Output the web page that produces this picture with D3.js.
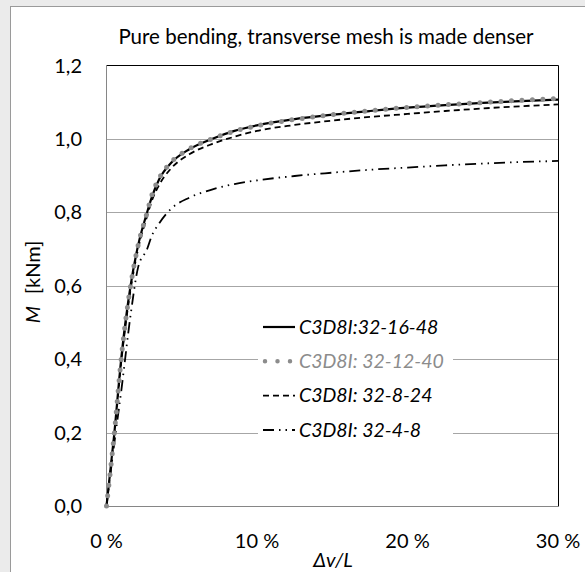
<!DOCTYPE html>
<html>
<head>
  <meta charset="UTF-8">
  <style>
    body { margin: 0; background: #fff; }
    svg { display: block; font-family: 'Lato', 'Open Sans', sans-serif; }
    .tick-label { font-size: 20px; fill: #000; }
    .legend-label { font-size: 19.5px; font-style: italic; }
  </style>
  <script src="https://d3js.org/d3.v7.min.js"></script>
</head>
<body>
<div id="chart"></div>
<script>
// Shared x values: relative deflection Δv/L in %
const strainPct = [0, 0.5, 1.0, 1.6, 2.1, 2.7, 3.0, 3.5, 4.3, 5.5, 7, 8.5, 10, 12.5, 15, 17.5, 20, 22.5, 25, 27.5, 30];

// Bending moment M [kNm] per mesh
const mesh16_48 = [0, 0.19, 0.41, 0.60, 0.71, 0.80, 0.84, 0.89, 0.935, 0.972, 1.0, 1.022, 1.037, 1.054, 1.066, 1.076, 1.085, 1.092, 1.098, 1.103, 1.107];
const mesh12_40 = [0, 0.19, 0.41, 0.60, 0.71, 0.80, 0.845, 0.893, 0.937, 0.973, 1.0, 1.021, 1.036, 1.053, 1.066, 1.077, 1.086, 1.093, 1.099, 1.105, 1.11];
const mesh8_24 = [0, 0.185, 0.40, 0.59, 0.70, 0.79, 0.83, 0.875, 0.92, 0.958, 0.986, 1.006, 1.022, 1.038, 1.05, 1.06, 1.068, 1.076, 1.083, 1.089, 1.094];
const mesh4_8 = [0, 0.165, 0.32, 0.52, 0.65, 0.70, 0.735, 0.77, 0.81, 0.84, 0.862, 0.877, 0.887, 0.899, 0.908, 0.916, 0.922, 0.928, 0.933, 0.937, 0.94];

const seriesNames = ['C3D8I:32-16-48', 'C3D8I: 32-12-40', 'C3D8I: 32-8-24', 'C3D8I: 32-4-8'];
const xTicks = [0, 10, 20, 30];
const yTicks = [0, 0.2, 0.4, 0.6, 0.8, 1.0, 1.2];

const W = 585, H = 572;
const margin = { left: 106.5, top: 65.5, right: 27, bottom: 66 };

const svg = d3.select('#chart').append('svg')
  .attr('width', W)
  .attr('height', H);

// grey page background and white chart frame
svg.append('rect').attr('width', W).attr('height', H).attr('fill', '#ebebeb');
svg.append('rect')
  .attr('x', 10.5).attr('y', 6.5)
  .attr('width', W + 20).attr('height', H + 20)
  .attr('fill', '#fff').attr('stroke', '#9a9a9a');

const x = d3.scaleLinear().domain([0, 30]).range([margin.left, W - margin.right]);
const y = d3.scaleLinear().domain([0, 1.2]).range([H - margin.bottom, margin.top]);

// gridlines
svg.append('g')
  .selectAll('line')
  .data(yTicks.filter(d => d > 0 && d < 1.2))
  .join('line')
  .attr('x1', x(0)).attr('x2', x(30))
  .attr('y1', d => Math.round(y(d)) + 0.5).attr('y2', d => Math.round(y(d)) + 0.5)
  .attr('stroke', '#a6a6a6');

// plot area border: black top/right, grey axes left/bottom
const px0 = x(0), px1 = Math.round(x(30)) + 0.5, py0 = Math.round(y(0)) + 0.5, py1 = y(1.2);
svg.append('path')
  .attr('d', `M${px0},${py1}H${px1}V${py0}`)
  .attr('fill', 'none').attr('stroke', '#000');
svg.append('path')
  .attr('d', `M${px0},${py1}V${py0}H${px1}`)
  .attr('fill', 'none').attr('stroke', '#868686');

// tick labels
const fmtY = d => d3.format('.1f')(d).replace('.', ',');
svg.append('g')
  .selectAll('text')
  .data(yTicks)
  .join('text')
  .attr('class', 'tick-label')
  .attr('x', 82)
  .attr('y', d => y(d))
  .attr('dy', '0.35em')
  .attr('text-anchor', 'end')
  .text(fmtY);

svg.append('g')
  .selectAll('text')
  .data(xTicks)
  .join('text')
  .attr('class', 'tick-label')
  .attr('x', d => x(d))
  .attr('y', 548)
  .attr('text-anchor', 'middle')
  .text(d => d + ' %');

// title and axis titles
svg.append('text')
  .attr('x', 326).attr('y', 44)
  .attr('text-anchor', 'middle')
  .style('font-size', '20.5px')
  .text('Pure bending, transverse mesh is made denser');

svg.append('text')
  .attr('x', 333).attr('y', 567)
  .attr('text-anchor', 'middle')
  .style('font-size', '20px')
  .style('font-style', 'italic')
  .text('Δv/L');

const yl = svg.append('text')
  .attr('transform', 'translate(40,282) rotate(-90)')
  .attr('text-anchor', 'middle')
  .style('font-size', '20px');
yl.append('tspan').style('font-style', 'italic').text('M');
yl.append('tspan').attr('dx', 12).text('[kNm]');

// series
const series = [
  { name: seriesNames[0], values: mesh16_48, stroke: '#000', width: 2.2, dash: null, cap: 'butt' },
  { name: seriesNames[1], values: mesh12_40, stroke: '#8c8c8c', width: 5, dash: '0 10.5', cap: 'round' },
  { name: seriesNames[2], values: mesh8_24, stroke: '#000', width: 1.8, dash: '6 4', cap: 'butt' },
  { name: seriesNames[3], values: mesh4_8, stroke: '#000', width: 1.8, dash: '11 5 1.5 5 1.5 5', cap: 'butt' }
];

const line = d3.line()
  .x((d, i) => x(strainPct[i]))
  .y(d => y(d))
  .curve(d3.curveMonotoneX);

// draw order: dash-dot, dashed, solid, then the grey dots on top
[3, 2, 0, 1].forEach(k => {
  const s = series[k];
  svg.append('path')
    .attr('d', line(s.values))
    .attr('fill', 'none')
    .attr('stroke', s.stroke)
    .attr('stroke-width', s.width)
    .attr('stroke-linecap', s.cap)
    .attr('stroke-dasharray', s.dash);
});

// legend
const legend = svg.append('g');
legend.append('rect')
  .attr('x', 258).attr('y', 310)
  .attr('width', 195).attr('height', 137)
  .attr('fill', '#fff');

const rowY = d3.scalePoint().domain(seriesNames).range([327, 430]);
const item = legend.selectAll('g.item')
  .data(series)
  .join('g')
  .attr('class', 'item')
  .attr('transform', d => `translate(0,${rowY(d.name)})`);

item.append('line')
  .attr('x1', d => d.cap === 'round' ? 265 : 263).attr('x2', 295)
  .attr('stroke', d => d.stroke)
  .attr('stroke-width', d => d.cap === 'round' ? 4.5 : d.width)
  .attr('stroke-linecap', d => d.cap)
  .attr('stroke-dasharray', d => d.dash ? d.dash.replace('10.5', '12.5') : null);

item.append('text')
  .attr('class', 'legend-label')
  .attr('x', 299)
  .attr('dy', '0.35em')
  .attr('fill', d => d.stroke === '#8c8c8c' ? '#8c8c8c' : '#000')
  .text(d => d.name);
</script>
</body>
</html>
